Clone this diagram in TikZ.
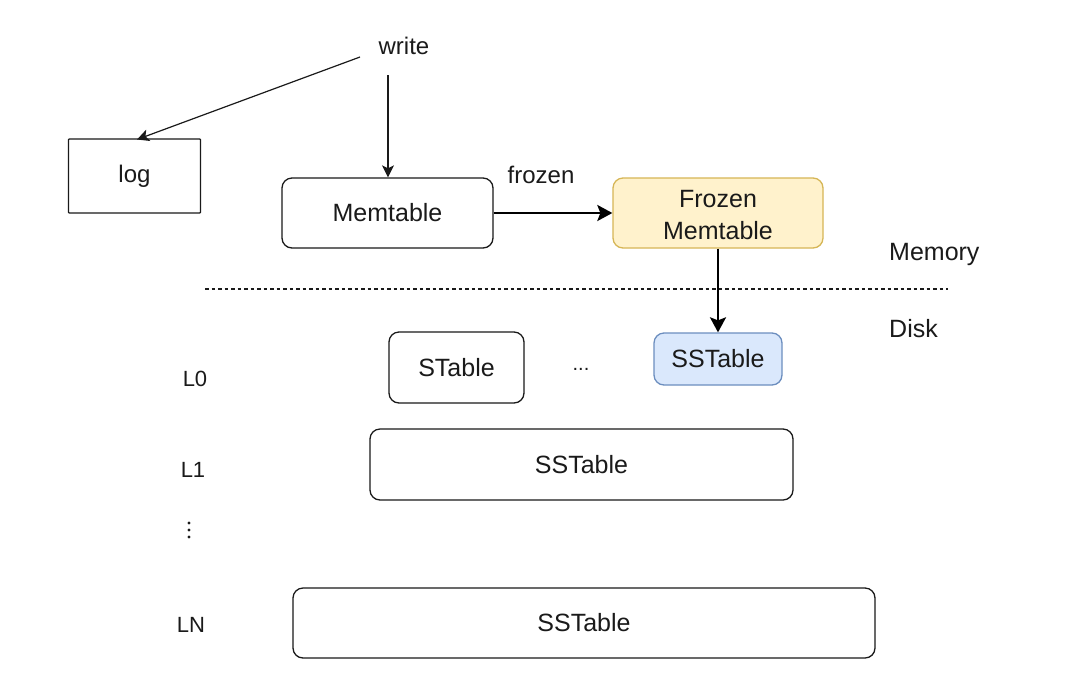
\documentclass[tikz,border=0pt]{standalone}
\usepackage{fontspec}
\setmainfont{Liberation Sans}
\usetikzlibrary{arrows.meta}
\definecolor{yfill}{HTML}{FFF2CC}
\definecolor{ydraw}{HTML}{D6B656}
\definecolor{bfill}{HTML}{DAE8FC}
\definecolor{bdraw}{HTML}{6C8EBF}
\definecolor{ink}{HTML}{1A1A1A}
\tikzset{
  boxbase/.style={draw=ink, line width=1.3pt, inner sep=0pt, align=center,
    font=\fontsize{25}{31}\selectfont, text=ink},
  rbox/.style={boxbase, rounded corners=10pt},
  lbl/.style={inner sep=0pt, font=\fontsize{24}{28}\selectfont, text=ink},
  lvl/.style={inner sep=0pt, font=\fontsize{22}{26}\selectfont, text=ink},
  thinarrow/.style={draw=ink, line width=1.2pt, -{Stealth[length=12pt,width=12pt,inset=3pt]}},
  thickarrow/.style={draw=black, line width=2.4pt, -{Stealth[length=15pt,width=16pt,inset=3pt]}},
}
\begin{document}
\begin{tikzpicture}[x=1pt,y=-1pt]
\useasboundingbox[fill=white] (0,0) rectangle (1086,697);

% texts
\node[lbl] (write) at (404,46) {write};
\node[lbl] (frozenlbl) at (541,175) {frozen};
\node[lbl, anchor=west, font=\fontsize{25}{29}\selectfont] (memory) at (889,254) {Memory};
\node[lbl, anchor=west, font=\fontsize{25}{29}\selectfont] (disk) at (889,329) {Disk};

% boxes
\node[boxbase, rounded corners=0.8pt, minimum width=132pt, minimum height=74pt, font=\fontsize{24}{28}\selectfont] (log) at (134.5,176) {log};
\node[rbox, minimum width=211pt, minimum height=70pt] (mem) at (387.5,213) {Memtable};
\node[rbox, draw=ydraw, fill=yfill, minimum width=210pt, minimum height=70pt] (frozen) at (718,213) {};
\node[text=ink, font=\fontsize{25}{32}\selectfont, align=center, inner sep=0pt] (frozentxt) at (718,215) {Frozen\\Memtable};
\node[rbox, minimum width=135pt, minimum height=71pt] (stable) at (456.5,367.5) {STable};
\node[rbox, draw=bdraw, fill=bfill, minimum width=128pt, minimum height=52pt] (sst0) at (718,359) {SSTable};
\node[lbl, font=\fontsize{20}{24}\selectfont] (dots) at (581,369) {...};
\node[rbox, minimum width=423pt, minimum height=71pt] (sst1) at (581.5,464.5) {SSTable};
\node[rbox, minimum width=582pt, minimum height=70pt] (sstn) at (584,623) {SSTable};

% level labels
\node[lvl] (l0) at (195,379) {L0};
\node[lvl] (l1) at (193,470) {L1};
\node[lvl] (ln) at (191,625) {LN};
\fill[ink] (189,523) circle (1.6pt) (189,530) circle (1.6pt) (189,537) circle (1.6pt);

% dashed separator
\coordinate (sepL) at (205,289);
\coordinate (sepR) at (948,289);
\draw[ink, line width=1.3pt, dash pattern=on 3.5pt off 3pt] (sepL) -- (sepR);

% connectors
\coordinate (w1) at (360,57);
\coordinate (w2) at (388,75);
\coordinate (logtop) at (137,139.5);
\draw[thinarrow] (w1) -- (logtop);
\draw[thinarrow] (w2) -- (mem.north -| w2);
\draw[thickarrow] (mem.east) -- (frozen.west);
\draw[thickarrow] (frozen.south) -- (sst0.north);
\end{tikzpicture}
\end{document}
